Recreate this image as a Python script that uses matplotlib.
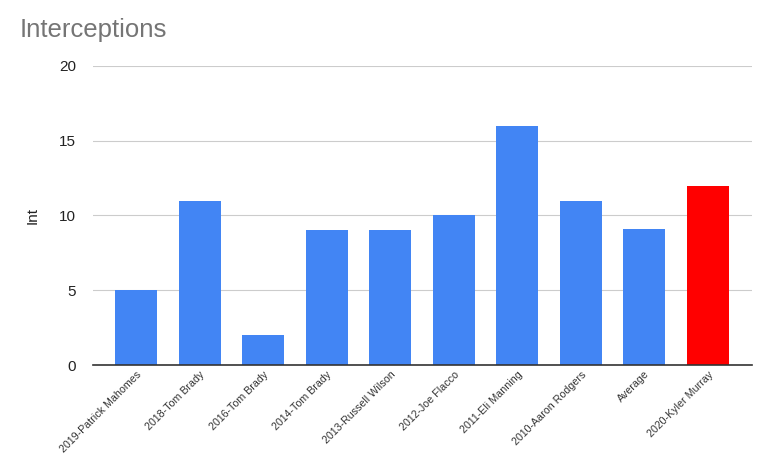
import matplotlib
matplotlib.use("Agg")
from matplotlib import pyplot as plt

players = ["2019-Patrick Mahomes", "2018-Tom Brady", "2016-Tom Brady", "2014-Tom Brady",
           "2013-Russell Wilson", "2012-Joe Flacco", "2011-Eli Manning",
           "2010-Aaron Rodgers", "Average", "2020-Kyler Murray"]
interceptions = [5, 11, 2, 9, 9, 10, 16, 11, 9.125, 12]
colors = ["#4285f4"] * 9 + ["#ff0000"]

plt.rcParams['font.family'] = ['Liberation Sans', 'DejaVu Sans']

fig = plt.figure(figsize=(7.61, 4.58), dpi=100)
ax = fig.add_axes([0.122, 0.203, 0.866, 0.653])

x = range(len(players))
ax.bar(x, interceptions, width=0.66, color=colors, zorder=3)

ax.set_ylim(0, 20)
ax.set_xlim(-0.68, len(players) - 0.31)
ax.set_yticks([0, 5, 10, 15, 20])
ax.grid(axis="y", color="#cccccc", linewidth=0.8, zorder=0)
ax.tick_params(axis="y", length=0, labelsize=11, pad=12, colors="#222222")
ax.tick_params(axis="x", length=0, pad=3)
ax.set_xticks(list(x))
ax.set_xticklabels(players, rotation=45, ha="right", rotation_mode="anchor",
                   fontsize=7.7, color="#333333")
for s in ["top", "right", "left"]:
    ax.spines[s].set_visible(False)
ax.spines["bottom"].set_color("#333333")
ax.spines["bottom"].set_linewidth(1.2)
ax.spines["bottom"].set_zorder(4)

ax.set_ylabel("Int", fontsize=11, color="#222222", labelpad=14)
fig.text(0.026, 0.935, "Interceptions", fontsize=18.5, color="#757575", va="center")

fig.savefig("out.png", dpi=100)
